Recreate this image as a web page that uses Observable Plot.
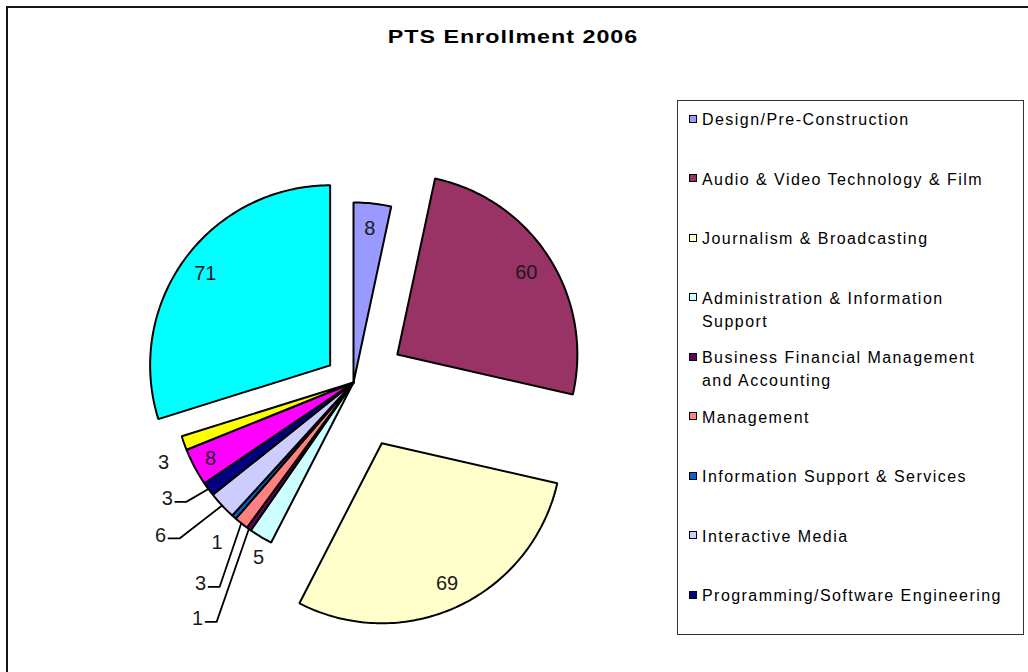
<!DOCTYPE html>
<html>
<head>
<meta charset="utf-8">
<script src="https://cdn.jsdelivr.net/npm/d3@7"></script>
<script src="https://cdn.jsdelivr.net/npm/@observablehq/plot@0.6"></script>
<style>
html, body { margin: 0; padding: 0; background: #fff; }
body { width: 1028px; height: 672px; overflow: hidden; position: relative; font-family: "Liberation Sans", Arial, sans-serif; }
#frame { position: absolute; left: 6px; top: 6px; width: 1200px; height: 800px; border: 2px solid #151515; box-sizing: border-box; }
#chart { position: absolute; left: 0; top: 0; }
#title { position: absolute; left: 0; top: 27px; width: 1026px; text-align: center; font-weight: bold; font-size: 18.8px; line-height: 20px; letter-spacing: 0.8px; color: #000; transform: scaleX(1.24); transform-origin: 513px 0; white-space: nowrap; }
#legend { position: absolute; left: 677px; top: 100px; width: 347px; height: 535px; border: 1px solid #333; box-sizing: border-box; }
.item { position: absolute; left: 0; width: 340px; }
.sw { position: absolute; left: 11px; width: 8px; height: 8px; box-sizing: border-box; border: 1.5px solid #000; }
.lab { position: absolute; left: 24px; width: 305px; font-size: 16px; line-height: 23px; letter-spacing: 1.45px; color: #000; }
</style>
</head>
<body>
<div id="frame"></div>
<div id="chart"></div>
<div id="title"></div>
<div id="legend"></div>
<script>
// ---- data ----
const title = "PTS Enrollment 2006";
const categories = [
  "Design/Pre-Construction",
  "Audio & Video Technology & Film",
  "Journalism & Broadcasting",
  "Administration & Information Support",
  "Business Financial Management and Accounting",
  "Management",
  "Information Support & Services",
  "Interactive Media",
  "Programming/Software Engineering",
  "Category 10",
  "Category 11",
  "Category 12"
];
const values = [8, 60, 69, 5, 1, 3, 1, 6, 3, 8, 3, 71];
const colors = ["#9999FF", "#993366", "#FFFFCC", "#CCFFFF", "#660066", "#FF8080",
                "#0066CC", "#CCCCFF", "#000080", "#FF00FF", "#FFFF00", "#00FFFF"];
const legendCount = 9;

// ---- layout ----
const R = 180;                                   // pie radius (px)
const explode = [0, 52, 67, 0, 0, 0, 0, 0, 0, 0, 0, 29];
// label placement: inside (fraction of radius) or outside (angle in degrees, radius factor, leader)
const labelLayout = [
  {inside: 0.86}, {inside: 0.85}, {inside: 0.86},
  {a: 208.5, k: 1.106},
  {a: 213.4, k: 1.573, leader: true},
  {a: 217.2, k: 1.405, leader: true},
  {a: 220.5, k: 1.167},
  {a: 231.6, k: 1.368, leader: true},
  {a: 238.0, k: 1.22, leader: true},
  {inside: 0.9},
  {a: 247.2, k: 1.145},
  {inside: 0.86}
];

const arcs = d3.pie().sort(null).value(d => d)(values);
const pt = (ang, r) => [r * Math.sin(ang), -r * Math.cos(ang)];

const slicePts = [];
const labels = [];
const leaders = [];
arcs.forEach((a, i) => {
  const mid = (a.startAngle + a.endAngle) / 2;
  const [ox, oy] = pt(mid, explode[i]);
  const key = categories[i];
  slicePts.push({key, x: ox, y: oy});
  const n = Math.max(2, Math.ceil((a.endAngle - a.startAngle) * 180 / Math.PI));
  for (let j = 0; j <= n; j++) {
    const ang = a.startAngle + (a.endAngle - a.startAngle) * j / n;
    const [px, py] = pt(ang, R);
    slicePts.push({key, x: ox + px, y: oy + py});
  }
  slicePts.push({key, x: ox, y: oy});

  const L = labelLayout[i];
  let lx, ly;
  if (L.inside !== undefined) {
    [lx, ly] = pt(mid, R * L.inside); lx += ox; ly += oy;
  } else {
    [lx, ly] = pt(L.a * Math.PI / 180, R * L.k);
  }
  labels.push({x: lx, y: ly, text: String(values[i])});
  if (L.leader) {
    const [ex, ey] = pt(mid, R);
    leaders.push({key, x: lx + 8, y: ly + 3});
    leaders.push({key, x: lx + 19, y: ly + 3});
    leaders.push({key, x: ex, y: ey});
  }
});

const plot = Plot.plot({
  width: 1028, height: 672,
  margin: 0,
  style: {background: "none", overflow: "visible"},
  x: {domain: [-353, 675], range: [0, 1028], axis: null},
  y: {domain: [-382, 290], range: [0, 672], axis: null},
  color: {domain: categories, range: colors},
  marks: [
    Plot.line(slicePts, {x: "x", y: "y", z: "key", fill: "key", stroke: "#000", strokeWidth: 2, curve: "linear", strokeLinejoin: "miter"}),
    Plot.line(leaders, {x: "x", y: "y", z: "key", stroke: "#000", strokeWidth: 1.8, curve: "linear"}),
    Plot.text(labels, {x: "x", y: "y", text: "text", fontSize: 20, fill: "#1a1a1a", fontFamily: "Liberation Sans, Arial, sans-serif"})
  ]
});
document.getElementById("chart").appendChild(plot);

document.getElementById("title").textContent = title;

const legend = document.getElementById("legend");
categories.slice(0, legendCount).forEach((c, i) => {
  const item = document.createElement("div");
  item.className = "item";
  item.style.top = (7.2 + 59.5 * i) + "px";
  const sw = document.createElement("div");
  sw.className = "sw";
  sw.style.top = "6.5px";
  sw.style.background = colors[i];
  const lab = document.createElement("div");
  lab.className = "lab";
  lab.textContent = c;
  item.appendChild(sw);
  item.appendChild(lab);
  legend.appendChild(item);
});
</script>
</body>
</html>
